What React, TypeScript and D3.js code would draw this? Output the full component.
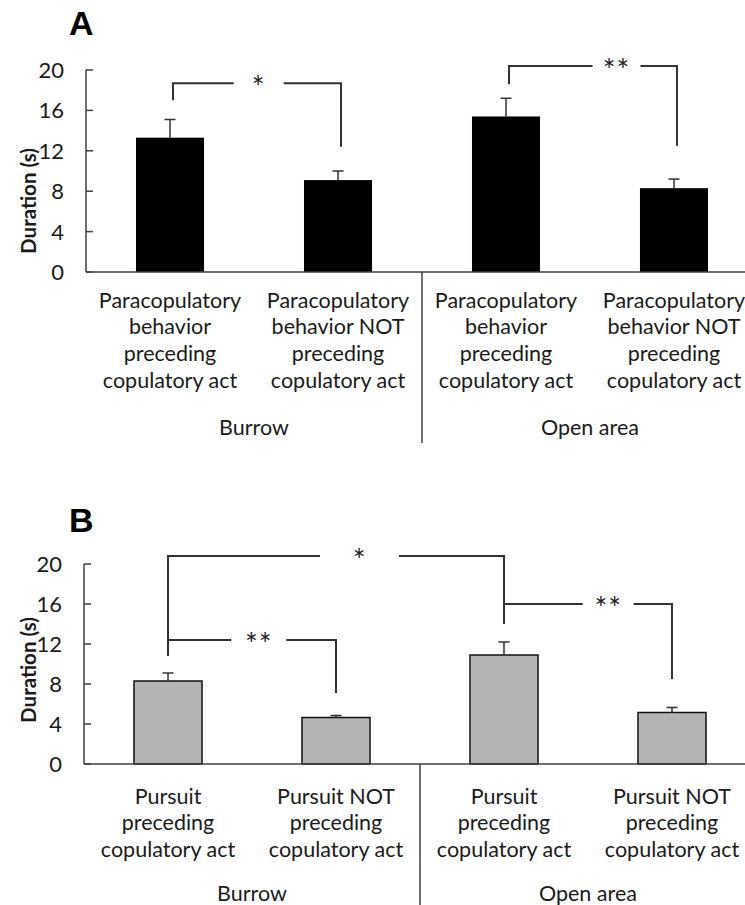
import React from "react";
import * as d3 from "d3";

// ---------- DATA ----------
const labelsA: string[][] = [
  ["Paracopulatory", "behavior", "preceding", "copulatory act"],
  ["Paracopulatory", "behavior NOT", "preceding", "copulatory act"],
  ["Paracopulatory", "behavior", "preceding", "copulatory act"],
  ["Paracopulatory", "behavior NOT", "preceding", "copulatory act"],
];
const meansA: number[] = [13.3, 9.1, 15.4, 8.3];
const errA: number[] = [1.8, 0.9, 1.8, 0.9];

const labelsB: string[][] = [
  ["Pursuit", "preceding", "copulatory act"],
  ["Pursuit NOT", "preceding", "copulatory act"],
  ["Pursuit", "preceding", "copulatory act"],
  ["Pursuit NOT", "preceding", "copulatory act"],
];
const meansB: number[] = [8.3, 4.65, 10.9, 5.15];
const errB: number[] = [0.8, 0.2, 1.3, 0.5];

const groups: string[] = ["Burrow", "Open area"];
const yTicks: number[] = [0, 4, 8, 12, 16, 20];

type Bracket = { from: number; to: number; top: number; leftEnd: number; rightEnd: number; label: string; at: number; gap: number };
const bracketsA: Bracket[] = [
  { from: 0, to: 1, top: 18.7, leftEnd: 17.0, rightEnd: 12.4, label: "*", at: 0.51, gap: 50 },
  { from: 2, to: 3, top: 20.4, leftEnd: 18.6, rightEnd: 12.5, label: "**", at: 0.64, gap: 48 },
];
const bracketsB: Bracket[] = [
  { from: 0, to: 2, top: 20.8, leftEnd: 10.8, rightEnd: 14.1, label: "*", at: 0.57, gap: 79 },
  { from: 0, to: 1, top: 12.4, leftEnd: 10.8, rightEnd: 7.1, label: "**", at: 0.54, gap: 55 },
  { from: 2, to: 3, top: 16.0, leftEnd: 14.0, rightEnd: 8.5, label: "**", at: 0.62, gap: 51 },
];

const FONT = "Lato, 'Open Sans', sans-serif";
const LINE = "#333";
const TEXT = "#1a1a1a";

type PanelProps = {
  letter: string;
  letterY: number;
  labels: string[][];
  means: number[];
  errs: number[];
  brackets: Bracket[];
  left: number;
  y0: number;
  y20: number;
  fill: string;
  stroke: string;
  bracketDx: number;
  labelY0: number;
  groupY: number;
  dividerBottom: number;
  titleY: number;
};

function Panel(p: PanelProps) {
  const idx = p.means.map((_, i) => String(i));
  const x = d3.scaleBand<string>().domain(idx).range([p.left, p.left + 168 * 4]).paddingInner(0.595).paddingOuter(0.2976);
  const y = d3.scaleLinear().domain([0, 20]).range([p.y0, p.y20]);
  const cx = (i: number) => (x(String(i)) as number) + x.bandwidth() / 2;
  const lineH = 26.7;
  const divX = (cx(1) + cx(2)) / 2;
  return (
    <g>
      <text x={69} y={p.letterY} fontFamily="'Liberation Sans', Arial, sans-serif" fontWeight="bold" fontSize={34}>{p.letter}</text>
      {/* y axis title */}
      <text transform={`translate(28,${p.titleY}) rotate(-90)`} textAnchor="middle" dominantBaseline="central" fontFamily={FONT} fontWeight="bold" fontSize={20.5} fill={TEXT}>Duration (s)</text>
      {/* bars */}
      {p.means.map((m, i) => (
        <rect key={"b" + i} x={x(String(i))} y={y(m)} width={x.bandwidth()} height={y(0) - y(m)} fill={p.fill} stroke={p.stroke} strokeWidth={p.stroke === "none" ? 0 : 1.5} />
      ))}
      {/* error bars */}
      {p.means.map((m, i) => (
        <g key={"e" + i} stroke={LINE} strokeWidth={1.5}>
          <line x1={cx(i)} x2={cx(i)} y1={y(m)} y2={y(m + p.errs[i])} />
          <line x1={cx(i) - 5.5} x2={cx(i) + 5.5} y1={y(m + p.errs[i])} y2={y(m + p.errs[i])} />
        </g>
      ))}
      {/* y axis */}
      <line x1={p.left} x2={p.left} y1={y(0)} y2={y(20)} stroke="#404040" strokeWidth={1.5} />
      {yTicks.map((t) => (
        <g key={"t" + t}>
          <line x1={p.left} x2={p.left + 7} y1={y(t)} y2={y(t)} stroke="#404040" strokeWidth={1.5} />
          <text x={p.left - 22} y={y(t)} dy="0.36em" textAnchor="end" fontFamily={FONT} fontSize={22} fill={TEXT}>{t}</text>
        </g>
      ))}
      {/* x axis */}
      <line x1={p.left} x2={745} y1={y(0)} y2={y(0)} stroke="#404040" strokeWidth={1.5} />
      <line x1={divX} x2={divX} y1={y(0)} y2={p.dividerBottom} stroke="#404040" strokeWidth={1.5} />
      {/* category labels */}
      {p.labels.map((lines, i) =>
        lines.map((ln, j) => (
          <text key={"l" + i + "_" + j} x={cx(i)} y={p.labelY0 + j * lineH} dy="0.36em" textAnchor="middle" fontFamily={FONT} fontSize={21.5} fill={TEXT}>{ln}</text>
        ))
      )}
      {groups.map((g, k) => (
        <text key={"g" + k} x={(cx(2 * k) + cx(2 * k + 1)) / 2} y={p.groupY} dy="0.36em" textAnchor="middle" fontFamily={FONT} fontSize={21.5} fill={TEXT}>{g}</text>
      ))}
      {/* significance brackets */}
      {p.brackets.map((b, k) => {
        const x1 = cx(b.from) + p.bracketDx;
        const x2 = cx(b.to) + p.bracketDx;
        const yt = y(b.top);
        const sx = x1 + (x2 - x1) * b.at;
        return (
          <g key={"br" + k}>
            <path d={`M${x1},${y(b.leftEnd)}V${yt}H${sx - b.gap / 2}M${sx + b.gap / 2},${yt}H${x2}V${y(b.rightEnd)}`} fill="none" stroke={LINE} strokeWidth={2} />
            <text x={sx} y={yt + 15} textAnchor="middle" fontFamily={FONT} fontSize={30} letterSpacing={1} fill="#222">{b.label}</text>
          </g>
        );
      })}
    </g>
  );
}

export default function App() {
  return (
    <svg width={745} height={905} style={{ position: "absolute", left: 0, top: 0, background: "#fff" }}>
      <rect width={745} height={905} fill="#fff" />
      <Panel letter="A" letterY={35} labels={labelsA} means={meansA} errs={errA} brackets={bracketsA}
        left={86} y0={272} y20={70} fill="#000" stroke="none" bracketDx={3}
        labelY0={300} groupY={427} dividerBottom={443} titleY={201} />
      <Panel letter="B" letterY={532} labels={labelsB} means={meansB} errs={errB} brackets={bracketsB}
        left={84} y0={764} y20={564} fill="#b4b4b4" stroke="#111" bracketDx={0}
        labelY0={796} groupY={893} dividerBottom={905} titleY={670} />
    </svg>
  );
}
